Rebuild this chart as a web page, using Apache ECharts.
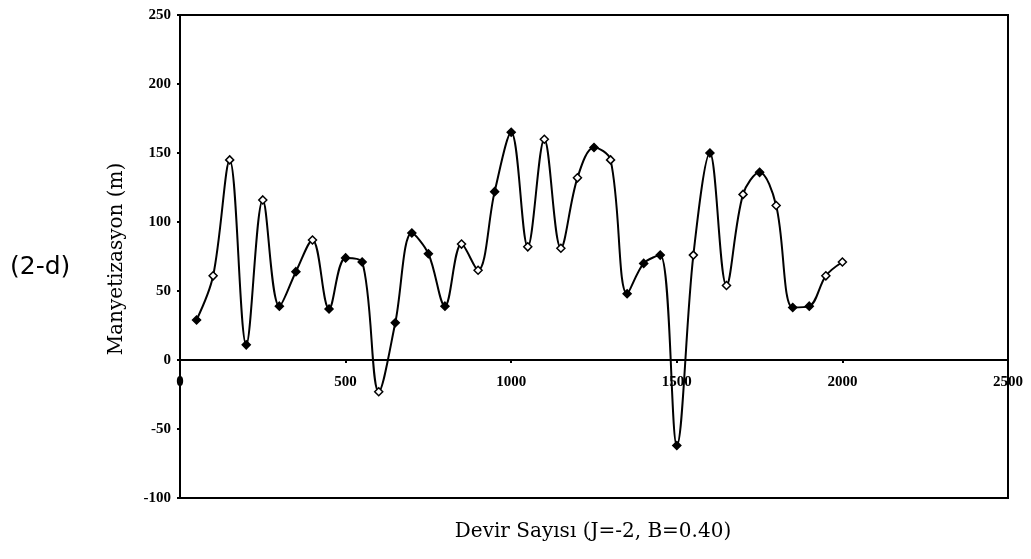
<!DOCTYPE html>
<html>
<head>
<meta charset="utf-8">
<script src="https://cdn.jsdelivr.net/npm/echarts@6/dist/echarts.min.js"></script>
<style>
  html, body { margin: 0; padding: 0; background: #fff; }
  #chart { width: 1031px; height: 559px; }
</style>
</head>
<body>
<div id="chart"></div>
<script>
// Devir sayısı (x) and manyetizasyon (y) values
const devir = [50, 100, 150, 200, 250, 300, 350, 400, 450, 500,
               550, 600, 650, 700, 750, 800, 850, 900, 950, 1000,
               1050, 1100, 1150, 1200, 1250, 1300, 1350, 1400, 1450, 1500,
               1550, 1600, 1650, 1700, 1750, 1800, 1850, 1900, 1950, 2000];
const manyetizasyon = [29, 61, 145, 11, 116, 39, 64, 87, 37, 74,
                       71, -23, 27, 92, 77, 39, 84, 65, 122, 165,
                       82, 160, 81, 132, 154, 145, 48, 70, 76, -62,
                       76, 150, 54, 120, 136, 112, 38, 39, 61, 71];
// points drawn with an open (white) diamond
const openPoints = [100, 150, 250, 400, 600, 850, 900, 1050, 1100, 1150,
                    1200, 1300, 1550, 1650, 1700, 1800, 1950, 2000];

// x tick labels, written just under the zero line
const xTickLabels = [0, 500, 1000, 1500, 2000, 2500];

const xTicks = { min: 0, max: 2500, interval: 500 };
const yTicks = { min: -100, max: 250, interval: 50 };

const tickFontFamily = 'Liberation Serif';

const chart = echarts.init(document.getElementById('chart'), null, { renderer: 'canvas' });

const seriesData = devir.map((d, i) => {
  const open = openPoints.includes(d);
  return {
    value: [d, manyetizasyon[i]],
    itemStyle: { color: open ? '#fff' : '#000', borderColor: '#000', borderWidth: 1.5 }
  };
});

chart.setOption({
  animation: false,
  backgroundColor: '#fff',
  grid: {
    left: 180, top: 15, right: 23, bottom: 61,
    show: true, borderColor: '#000', borderWidth: 2, backgroundColor: 'transparent'
  },
  xAxis: {
    type: 'value',
    min: xTicks.min, max: xTicks.max, interval: xTicks.interval,
    axisLine: { show: true, onZero: true, lineStyle: { color: '#000', width: 2 } },
    axisTick: { show: true, inside: false, length: 3, lineStyle: { color: '#000', width: 2 } },
    axisLabel: { show: false },
    splitLine: { show: false }
  },
  yAxis: {
    type: 'value',
    min: yTicks.min, max: yTicks.max, interval: yTicks.interval,
    axisLine: { show: true, onZero: false, lineStyle: { color: '#000', width: 2 } },
    axisTick: { show: true, length: 3, lineStyle: { color: '#000', width: 2 } },
    axisLabel: {
      margin: 9, fontFamily: tickFontFamily, fontWeight: 'bold', fontSize: 15, color: '#000'
    },
    splitLine: { show: false }
  },
  series: [{
    type: 'line',
    data: seriesData,
    smooth: 0.35,
    symbol: 'diamond',
    symbolSize: 8,
    lineStyle: { color: '#000', width: 2 },
    itemStyle: { color: '#000' },
    z: 3
  }]
});

// x tick labels placed through the axis scale, under the y = 0 line
const xLabelGraphics = xTickLabels.map(v => {
  const p = chart.convertToPixel({ gridIndex: 0 }, [v, 0]);
  return {
    type: 'text', x: p[0], y: p[1] + 22, z: 10,
    style: {
      text: String(v), font: 'bold 15px "' + tickFontFamily + '"', fill: '#000',
      align: 'center', verticalAlign: 'middle'
    }
  };
});

chart.setOption({
  graphic: xLabelGraphics.concat([
    {
      type: 'text', left: 10, top: 255,
      style: { text: '(2-d)', font: '25px "DejaVu Sans"', fill: '#000' }
    },
    {
      type: 'text', x: 117, y: 259, rotation: Math.PI / 2,
      style: {
        text: 'Manyetizasyon (m)', font: '20px "DejaVu Serif"', fill: '#000',
        align: 'center', verticalAlign: 'middle'
      }
    },
    {
      type: 'text', x: 593, y: 532,
      style: {
        text: 'Devir Sayısı (J=-2, B=0.40)', font: '20px "DejaVu Serif"', fill: '#000',
        align: 'center', verticalAlign: 'middle'
      }
    }
  ])
});
</script>
</body>
</html>
